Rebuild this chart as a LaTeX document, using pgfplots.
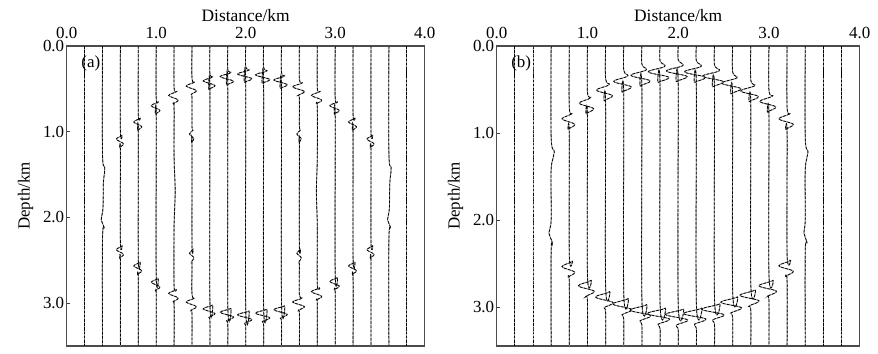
\documentclass[border=0pt]{standalone}
\usepackage{pgfplots}
\pgfplotsset{compat=1.18}
\usepackage{fontspec}
\setmainfont{Liberation Serif}
\pgfplotsset{
  trace/.style={black, line width=0.75pt, dash pattern=on 2.6bp off 1.6bp, smooth, tension=0.6, mark=none,
    preaction={draw=black!50, solid, line width=0.9pt}},
  panel/.style={
    anchor=south west, scale only axis,
    xmin=0, xmax=4, ymin=0, y dir=reverse,
    xtick={0,1,2,3,4}, ytick={0,1,2,3},
    xticklabel pos=upper, xtick pos=upper, ytick pos=left,
    tick align=inside, major tick length=3bp,
    tick style={black!75, line width=0.6pt},
    axis line style={draw=black!70, line width=1.1pt},
    /pgf/number format/.cd, fixed, fixed zerofill, precision=1, assume math mode=true,
    /pgfplots/.cd,
    tick label style={font=\fontsize{17}{19}\selectfont},
    xticklabel style={yshift=3.5bp},
    yticklabel style={xshift=1bp},
    xlabel={Distance/km}, ylabel={Depth/km},
    xlabel style={yshift=-1bp, font=\fontsize{17.5}{19}\selectfont},
    ylabel style={yshift=3bp, font=\fontsize{17}{19}\selectfont},
    clip=true,
  }
}
\begin{document}
\begin{tikzpicture}[font=\fontsize{17}{19}\selectfont]
\useasboundingbox (0,0) rectangle (878bp,354bp);
% ---------------- panel (a) ----------------
\begin{axis}[panel, at={(66.7bp,8bp)}, width=358bp, height=300bp, ymax=3.5]
\addplot[trace] coordinates {(0.2,0) (0.2,3.5)};
\addplot[trace] coordinates {(0.4,0) (0.4,1.25) (0.425,1.42) (0.41,1.6) (0.405,1.9) (0.385,2.03) (0.42,2.12) (0.4,2.25) (0.4,3.5)};
\addplot[trace] coordinates {(0.6,0) (0.6,1.00) (0.618,1.042) (0.555,1.087) (0.634,1.14) (0.593,1.185) (0.6,1.22)
  (0.6,2.29) (0.618,2.332) (0.555,2.377) (0.634,2.43) (0.593,2.475) (0.6,2.51) (0.6,3.5)};
\addplot[trace] coordinates {(0.8,0) (0.8,0.80) (0.82,0.842) (0.75,0.887) (0.838,0.94) (0.793,0.985) (0.8,1.02)
  (0.8,2.48) (0.82,2.522) (0.75,2.567) (0.838,2.62) (0.793,2.665) (0.8,2.70) (0.8,3.5)};
\addplot[trace] coordinates {(1,0) (1,0.61) (1.022,0.652) (0.945,0.697) (1.041,0.75) (0.992,0.795) (1,0.83)
  (1,2.67) (1.022,2.712) (0.945,2.757) (1.041,2.81) (0.992,2.855) (1,2.89) (1,3.5)};
\addplot[trace] coordinates {(1.2,0) (1.2,0.49) (1.224,0.532) (1.14,0.577) (1.245,0.63) (1.191,0.675) (1.2,0.71)
  (1.2,1.3) (1.212,1.7) (1.2,2.1)
  (1.2,2.80) (1.224,2.842) (1.14,2.887) (1.245,2.94) (1.191,2.985) (1.2,3.02) (1.2,3.5)};
\addplot[trace] coordinates {(1.4,0) (1.4,0.38) (1.426,0.422) (1.335,0.467) (1.449,0.52) (1.39,0.565) (1.4,0.60)
  (1.4,0.94) (1.411,0.982) (1.372,1.027) (1.421,1.08) (1.396,1.125) (1.4,1.16)
  (1.4,2.33) (1.411,2.372) (1.372,2.417) (1.421,2.47) (1.396,2.515) (1.4,2.55)
  (1.4,2.90) (1.426,2.942) (1.335,2.987) (1.449,3.04) (1.39,3.085) (1.4,3.12) (1.4,3.5)};
\addplot[trace] coordinates {(1.6,0) (1.6,0.32) (1.63,0.362) (1.525,0.407) (1.656,0.46) (1.589,0.505) (1.6,0.54)
  (1.6,2.98) (1.63,3.022) (1.525,3.067) (1.656,3.12) (1.589,3.165) (1.6,3.20) (1.6,3.5)};
\addplot[trace] coordinates {(1.8,0) (1.8,0.27) (1.834,0.312) (1.715,0.357) (1.864,0.41) (1.787,0.455) (1.8,0.49)
  (1.8,3.02) (1.834,3.062) (1.715,3.107) (1.864,3.16) (1.787,3.205) (1.8,3.24) (1.8,3.5)};
\addplot[trace] coordinates {(2,0) (2,0.24) (2.036,0.282) (1.91,0.327) (2.068,0.38) (1.986,0.425) (2,0.46)
  (2,3.05) (2.036,3.092) (1.91,3.137) (2.068,3.19) (1.986,3.235) (2,3.27) (2,3.5)};
\addplot[trace] coordinates {(2.2,0) (2.2,0.25) (2.236,0.292) (2.11,0.337) (2.268,0.39) (2.186,0.435) (2.2,0.47)
  (2.2,3.03) (2.236,3.072) (2.11,3.117) (2.268,3.17) (2.186,3.215) (2.2,3.25) (2.2,3.5)};
\addplot[trace] coordinates {(2.4,0) (2.4,0.31) (2.434,0.352) (2.315,0.397) (2.464,0.45) (2.387,0.495) (2.4,0.53)
  (2.4,2.99) (2.434,3.032) (2.315,3.077) (2.464,3.13) (2.387,3.175) (2.4,3.21) (2.4,3.5)};
\addplot[trace] coordinates {(2.6,0) (2.6,0.39) (2.63,0.432) (2.525,0.477) (2.656,0.53) (2.589,0.575) (2.6,0.61)
  (2.6,0.94) (2.611,0.982) (2.572,1.027) (2.621,1.08) (2.596,1.125) (2.6,1.16)
  (2.6,2.33) (2.611,2.372) (2.572,2.417) (2.621,2.47) (2.596,2.515) (2.6,2.55)
  (2.6,2.90) (2.63,2.942) (2.525,2.987) (2.656,3.04) (2.589,3.085) (2.6,3.12) (2.6,3.5)};
\addplot[trace] coordinates {(2.8,0) (2.8,0.49) (2.826,0.532) (2.735,0.577) (2.849,0.63) (2.79,0.675) (2.8,0.71)
  (2.8,1.3) (2.79,1.7) (2.8,2.1)
  (2.8,2.78) (2.826,2.822) (2.735,2.867) (2.849,2.92) (2.79,2.965) (2.8,3.00) (2.8,3.5)};
\addplot[trace] coordinates {(3,0) (3,0.61) (3.024,0.652) (2.94,0.697) (3.045,0.75) (2.991,0.795) (3,0.83)
  (3,2.66) (3.024,2.702) (2.94,2.747) (3.045,2.80) (2.991,2.845) (3,2.88) (3,3.5)};
\addplot[trace] coordinates {(3.2,0) (3.2,0.80) (3.22,0.842) (3.15,0.887) (3.238,0.94) (3.193,0.985) (3.2,1.02)
  (3.2,2.48) (3.22,2.522) (3.15,2.567) (3.238,2.62) (3.193,2.665) (3.2,2.70) (3.2,3.5)};
\addplot[trace] coordinates {(3.4,0) (3.4,1.00) (3.418,1.042) (3.355,1.087) (3.434,1.14) (3.393,1.185) (3.4,1.22)
  (3.4,2.29) (3.418,2.332) (3.355,2.377) (3.434,2.43) (3.393,2.475) (3.4,2.51) (3.4,3.5)};
\addplot[trace] coordinates {(3.6,0) (3.6,1.25) (3.625,1.42) (3.61,1.6) (3.605,1.9) (3.585,2.03) (3.62,2.12) (3.6,2.25) (3.6,3.5)};
\addplot[trace] coordinates {(3.8,0) (3.8,3.5)};
\node at (axis cs:0.27,0.2) {(a)};
\end{axis}
% ---------------- panel (b) ----------------
\begin{axis}[panel, at={(496.7bp,8bp)}, width=363bp, height=300bp, ymax=3.45]
\addplot[trace] coordinates {(0.2,0) (0.2,3.45)};
\addplot[trace] coordinates {(0.4,0) (0.4,3.45)};
\addplot[trace] coordinates {(0.6,0) (0.6,1.05) (0.635,1.22) (0.6,1.42) (0.6,2.0) (0.575,2.15) (0.612,2.26) (0.6,2.36) (0.6,3.45)};
\addplot[trace] coordinates {(0.8,0) (0.8,0.71) (0.832,0.775) (0.72,0.838) (0.86,0.90) (0.788,0.96) (0.8,1.01)
  (0.8,2.41) (0.832,2.475) (0.72,2.538) (0.86,2.60) (0.788,2.66) (0.8,2.71) (0.8,3.45)};
\addplot[trace] coordinates {(1,0) (1,0.53) (1.036,0.595) (0.91,0.658) (1.068,0.72) (0.986,0.78) (1,0.83)
  (1,2.63) (1.04,2.695) (0.90,2.758) (1.075,2.82) (0.985,2.88) (1,2.93) (1,3.45)};
\addplot[trace] coordinates {(1.2,0) (1.2,0.38) (1.24,0.445) (1.10,0.508) (1.275,0.57) (1.185,0.63) (1.2,0.68)
  (1.2,2.76) (1.244,2.825) (1.09,2.888) (1.283,2.95) (1.183,3.01) (1.2,3.06) (1.2,3.45)};
\addplot[trace] coordinates {(1.4,0) (1.4,0.28) (1.444,0.345) (1.29,0.408) (1.483,0.47) (1.383,0.53) (1.4,0.58)
  (1.4,2.84) (1.448,2.905) (1.28,2.968) (1.49,3.03) (1.382,3.09) (1.4,3.14) (1.4,3.45)};
\addplot[trace] coordinates {(1.6,0) (1.6,0.21) (1.648,0.275) (1.48,0.338) (1.69,0.40) (1.582,0.46) (1.6,0.51)
  (1.6,2.91) (1.652,2.975) (1.47,3.038) (1.698,3.10) (1.58,3.16) (1.6,3.21) (1.6,3.45)};
\addplot[trace] coordinates {(1.8,0) (1.8,0.17) (1.852,0.235) (1.67,0.298) (1.898,0.36) (1.78,0.42) (1.8,0.47)
  (1.8,2.95) (1.856,3.015) (1.66,3.078) (1.905,3.14) (1.779,3.20) (1.8,3.25) (1.8,3.45)};
\addplot[trace] coordinates {(2,0) (2,0.16) (2.052,0.225) (1.87,0.288) (2.098,0.35) (1.98,0.41) (2,0.46)
  (2,2.96) (2.056,3.025) (1.86,3.088) (2.105,3.15) (1.979,3.21) (2,3.26) (2,3.45)};
\addplot[trace] coordinates {(2.2,0) (2.2,0.17) (2.252,0.235) (2.07,0.298) (2.298,0.36) (2.18,0.42) (2.2,0.47)
  (2.2,2.95) (2.256,3.015) (2.06,3.078) (2.305,3.14) (2.179,3.20) (2.2,3.25) (2.2,3.45)};
\addplot[trace] coordinates {(2.4,0) (2.4,0.22) (2.452,0.285) (2.27,0.348) (2.498,0.41) (2.38,0.47) (2.4,0.52)
  (2.4,2.90) (2.456,2.965) (2.26,3.028) (2.505,3.09) (2.379,3.15) (2.4,3.20) (2.4,3.45)};
\addplot[trace] coordinates {(2.6,0) (2.6,0.30) (2.648,0.365) (2.48,0.428) (2.69,0.49) (2.582,0.55) (2.6,0.60)
  (2.6,2.82) (2.652,2.885) (2.47,2.948) (2.698,3.01) (2.58,3.07) (2.6,3.12) (2.6,3.45)};
\addplot[trace] coordinates {(2.8,0) (2.8,0.39) (2.844,0.455) (2.69,0.518) (2.883,0.58) (2.783,0.64) (2.8,0.69)
  (2.8,2.74) (2.848,2.805) (2.68,2.868) (2.89,2.93) (2.782,2.99) (2.8,3.04) (2.8,3.45)};
\addplot[trace] coordinates {(3,0) (3,0.51) (3.04,0.575) (2.90,0.638) (3.075,0.70) (2.985,0.76) (3,0.81)
  (3,2.63) (3.044,2.695) (2.89,2.758) (3.083,2.82) (2.983,2.88) (3,2.93) (3,3.45)};
\addplot[trace] coordinates {(3.2,0) (3.2,0.71) (3.236,0.775) (3.11,0.838) (3.268,0.90) (3.186,0.96) (3.2,1.01)
  (3.2,2.40) (3.236,2.465) (3.11,2.528) (3.268,2.59) (3.186,2.65) (3.2,2.70) (3.2,3.45)};
\addplot[trace] coordinates {(3.4,0) (3.4,1.05) (3.43,1.22) (3.4,1.42) (3.4,2.0) (3.385,2.15) (3.42,2.26) (3.4,2.36) (3.4,3.45)};
\addplot[trace] coordinates {(3.6,0) (3.6,3.45)};
\addplot[trace] coordinates {(3.8,0) (3.8,3.45)};
\node at (axis cs:0.27,0.2) {(b)};
\end{axis}
\end{tikzpicture}
\end{document}
